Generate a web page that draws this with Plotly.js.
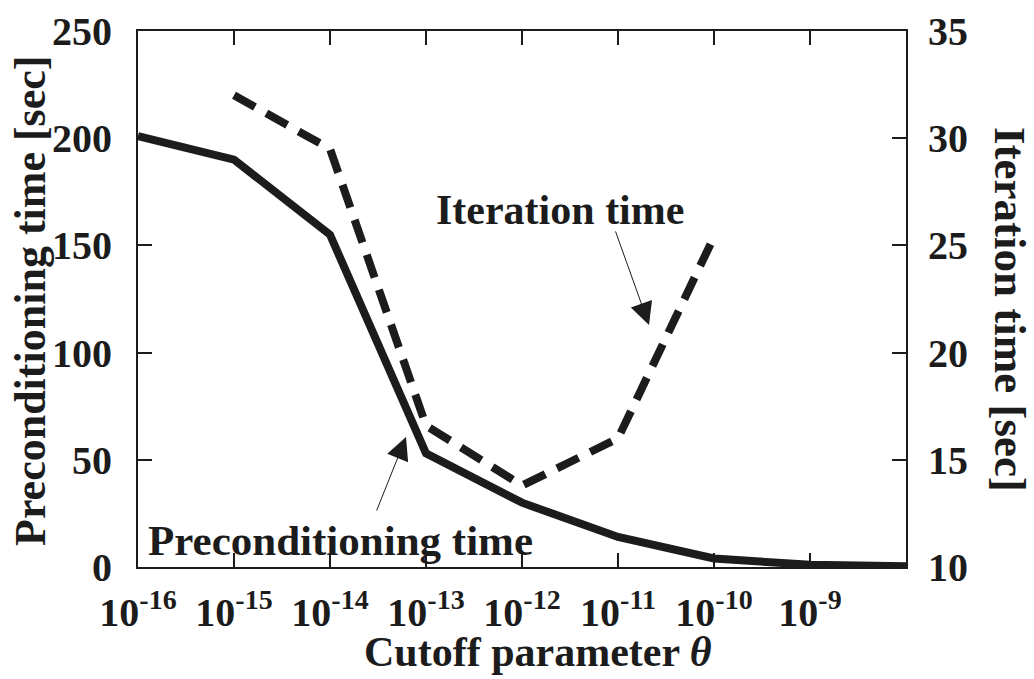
<!DOCTYPE html>
<html>
<head>
<meta charset="utf-8">
<script src="https://cdn.plot.ly/plotly-3.0.1.min.js"></script>
<style>
  html, body { margin: 0; padding: 0; background: #fff; }
  #chart { width: 1034px; height: 679px; }
</style>
</head>
<body>
<div id="chart"></div>
<script>
// Cutoff parameter values (log scale)
const cutoffPrecond = [1e-16, 1e-15, 1e-14, 1e-13, 1e-12, 1e-11, 1e-10, 1e-9, 1e-8];
const precondTime   = [201, 190, 155, 53, 30, 14, 4, 1, 0.4];

const cutoffIter = [1e-15, 1e-14, 1e-13, 1e-12, 1e-11, 1e-10];
const iterTime   = [32.0, 29.5, 16.6, 13.8, 16.0, 25.4];

const xTickVals  = [1e-16, 1e-15, 1e-14, 1e-13, 1e-12, 1e-11, 1e-10, 1e-9];
const xTickExp   = ['-16', '-15', '-14', '-13', '-12', '-11', '-10', '-9'];
const leftTicks  = [0, 50, 100, 150, 200, 250];
const rightTicks = [10, 15, 20, 25, 30, 35];

const INK = '#1c1c1c';
const FONT = 'Liberation Serif, Times New Roman, serif';
const tickFont = {family: FONT, size: 40, color: INK, weight: 'bold'};
const xTickText = xTickExp.map(e => '10<sup>' + e + '</sup>');

const traces = [
  {
    x: cutoffPrecond, y: precondTime, type: 'scatter', mode: 'lines',
    line: {color: INK, width: 8}, yaxis: 'y', hoverinfo: 'skip'
  },
  {
    x: cutoffIter, y: iterTime, type: 'scatter', mode: 'lines',
    line: {color: INK, width: 8, dash: '24px,13px'}, yaxis: 'y2', hoverinfo: 'skip'
  }
];

const titleFont = size => ({family: FONT, size: size, color: INK, weight: 'bold'});

const layout = {
  width: 1034, height: 679,
  margin: {l: 138, r: 128, t: 31, b: 112},
  paper_bgcolor: '#fff', plot_bgcolor: '#fff',
  showlegend: false,
  xaxis: {
    type: 'log', range: [-16, -8],
    tickvals: xTickVals, ticktext: xTickText,
    ticks: 'inside', ticklen: 14, tickwidth: 2, tickcolor: INK,
    showline: true, linecolor: INK, linewidth: 2, mirror: 'ticks',
    showgrid: false, zeroline: false,
    tickfont: tickFont, ticklabelstandoff: 9
  },
  yaxis: {
    range: [0, 250], tickvals: leftTicks,
    ticks: 'inside', ticklen: 14, tickwidth: 2, tickcolor: INK,
    showline: true, linecolor: INK, linewidth: 2, mirror: true,
    showgrid: false, zeroline: false,
    tickfont: tickFont, ticklabelstandoff: 16
  },
  yaxis2: {
    range: [10, 35], tickvals: rightTicks, overlaying: 'y', side: 'right',
    ticks: 'inside', ticklen: 14, tickwidth: 2, tickcolor: INK,
    showline: true, linecolor: INK, linewidth: 2,
    showgrid: false, zeroline: false,
    tickfont: tickFont, ticklabelstandoff: 12
  },
  annotations: [
    // axis titles
    {text: 'Preconditioning time [sec]', xref: 'paper', yref: 'paper', x: 0, y: 0.5,
     xshift: -108, yshift: -2, textangle: -90, showarrow: false,
     xanchor: 'center', yanchor: 'middle', font: titleFont(44)},
    {text: 'Iteration time [sec]', xref: 'paper', yref: 'paper', x: 1, y: 0.5,
     xshift: 104, yshift: -10, textangle: 90, showarrow: false,
     xanchor: 'center', yanchor: 'middle', font: titleFont(45)},
    {text: 'Cutoff parameter <i>θ</i>', xref: 'paper', yref: 'paper', x: 0.5, y: 0,
     xshift: 16, yshift: -85, showarrow: false,
     xanchor: 'center', yanchor: 'middle', font: titleFont(42)},
    // series labels
    {text: 'Iteration time', xref: 'paper', yref: 'paper', x: 0.5, y: 1,
     xshift: 38, yshift: -179, showarrow: false,
     xanchor: 'center', yanchor: 'middle', font: titleFont(42)},
    {text: 'Preconditioning time', xref: 'paper', yref: 'paper', x: 0, y: 0,
     xshift: 202, yshift: 27, showarrow: false,
     xanchor: 'center', yanchor: 'middle', font: titleFont(43)},
    // pointer arrows
    {text: '', x: -10.677, y: 112.9, xref: 'x', yref: 'y',
     showarrow: true, arrowhead: 2, arrowsize: 4.5, arrowwidth: 1, arrowcolor: INK,
     ax: -34, ay: -95, standoff: 0},
    {text: '', x: -13.208, y: 60.6, xref: 'x', yref: 'y',
     showarrow: true, arrowhead: 2, arrowsize: 4.5, arrowwidth: 1, arrowcolor: INK,
     ax: -30, ay: 75, standoff: 0}
  ]
};

Plotly.newPlot('chart', traces, layout, {staticPlot: true, displayModeBar: false});
</script>
</body>
</html>
